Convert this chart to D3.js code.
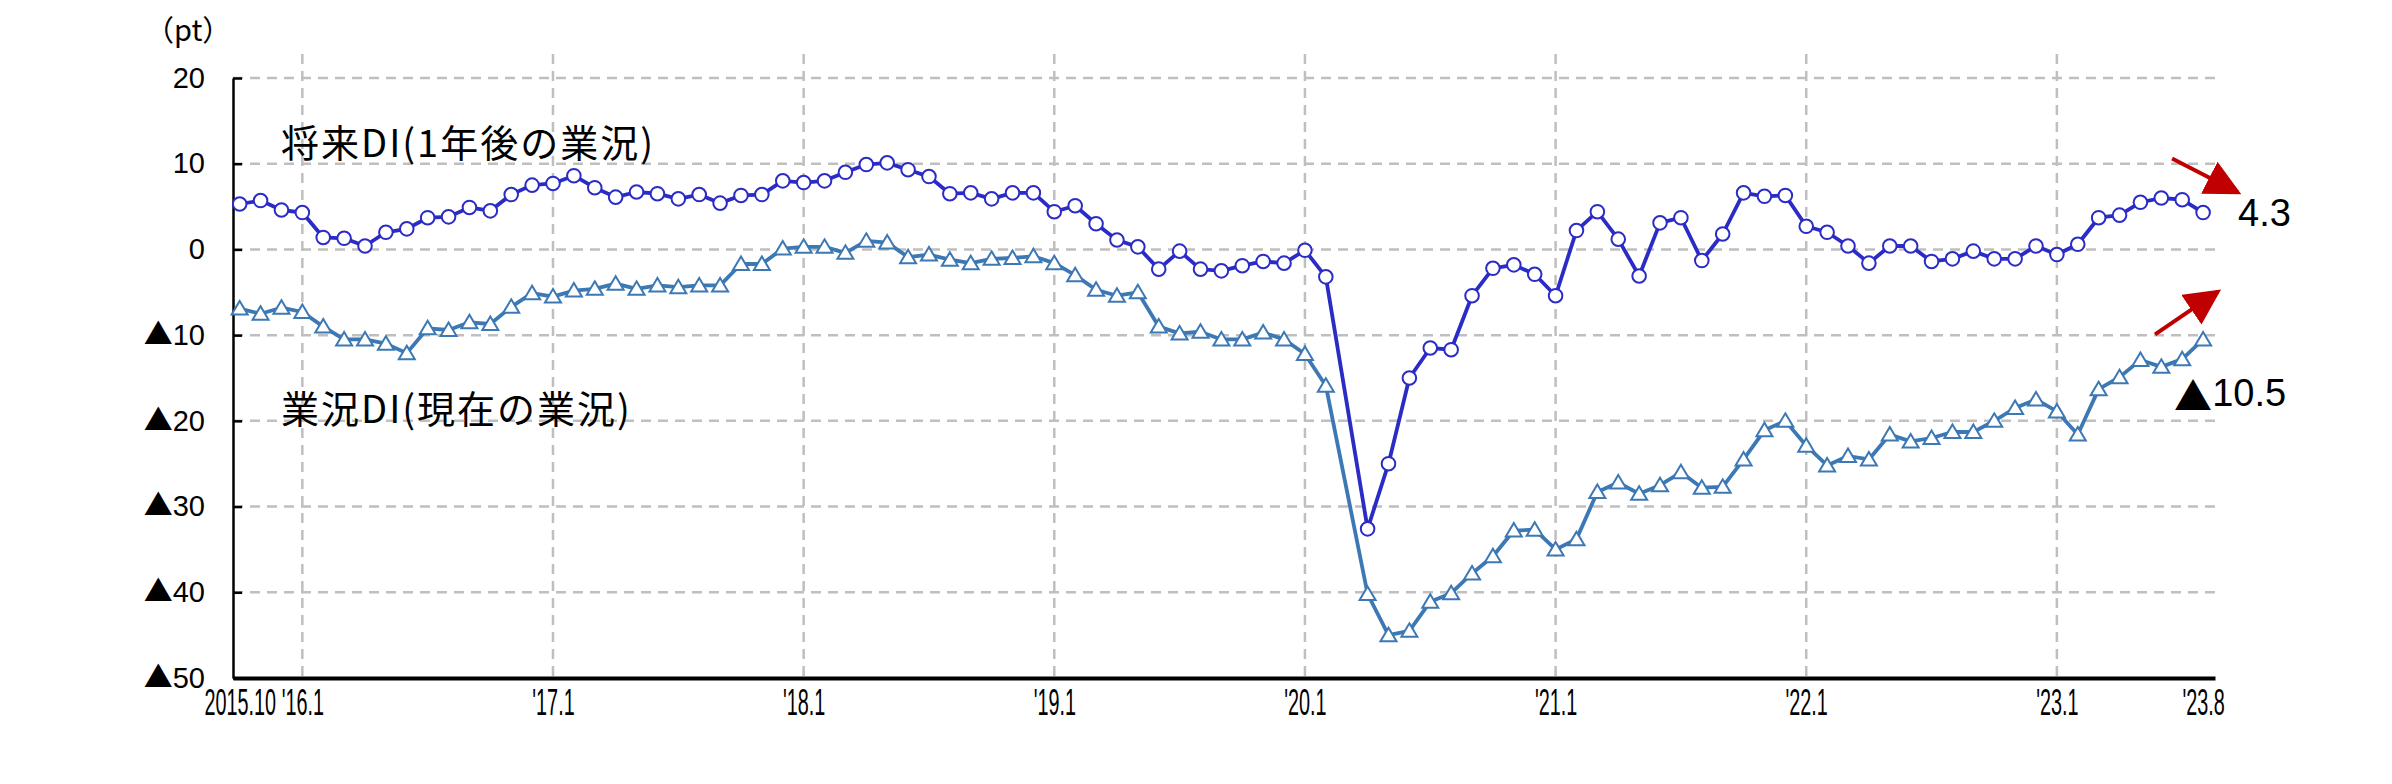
<!DOCTYPE html>
<html><head><meta charset="utf-8">
<script src="https://cdn.jsdelivr.net/npm/d3@7"></script>
<style>body{margin:0;background:#fff;} svg{display:block;}</style>
</head><body><svg id="c" width="2392" height="784"></svg>
<script>
// ---- data ----
const startYear = 2015, startMonthNum = 10;
const futureDI = [5.3,5.7,4.6,4.3,1.4,1.3,0.4,2.0,2.4,3.7,3.8,4.9,4.5,6.4,7.5,7.7,8.6,7.2,6.1,6.7,
  6.5,5.9,6.4,5.4,6.3,6.4,8.0,7.8,8.0,9.0,9.9,10.1,9.3,8.5,6.5,6.6,5.9,6.6,6.6,4.4,
  5.1,3.0,1.1,0.3,-2.3,-0.2,-2.3,-2.5,-1.9,-1.4,-1.6,-0.1,-3.2,null,-32.6,-25.0,-15.0,-11.5,-11.7,-5.4,
  -2.2,-1.8,-2.9,-5.4,2.2,4.4,1.2,-3.1,3.1,3.7,-1.3,1.8,6.6,6.2,6.3,2.7,2.0,0.4,-1.6,0.4,
  0.4,-1.4,-1.1,-0.2,-1.1,-1.1,0.4,-0.6,0.6,3.7,4.0,5.5,6.0,5.8,4.3];
const currentDI = [-6.9,-7.5,-6.8,-7.3,-9.0,-10.5,-10.5,-11.0,-12.1,-9.2,-9.4,-8.5,-8.7,-6.7,-5.1,-5.5,-4.8,-4.6,-4.0,-4.6,
  -4.2,-4.4,-4.2,-4.2,-1.7,-1.7,0.1,0.3,0.3,-0.4,1.0,0.8,-0.9,-0.6,-1.2,-1.6,-1.1,-1.0,-0.8,-1.6,
  -3.0,-4.7,-5.4,-5.0,-9.0,-9.8,-9.6,-10.5,-10.5,-9.7,-10.5,-12.2,-15.9,null,-40.2,-45.0,-44.5,-41.1,-40.1,-37.8,
  -35.8,-32.8,-32.7,-35.0,-33.8,-28.3,-27.2,-28.5,-27.5,-26.0,-27.8,-27.7,-24.5,-21.1,-20.0,-22.9,-25.2,-24.1,-24.5,-21.6,
  -22.4,-22.0,-21.3,-21.3,-20.0,-18.5,-17.5,-18.9,-21.6,-16.3,-14.9,-12.9,-13.7,-12.8,-10.5];
const tickMonths = ["2015-10","2016-01","2017-01","2018-01","2019-01","2020-01","2021-01","2022-01","2023-01","2023-08"];
const tickLabels = ["2015.10","'16.1","'17.1","'18.1","'19.1","'20.1","'21.1","'22.1","'23.1","'23.8"];
const gridMonths = ["2016-01","2017-01","2018-01","2019-01","2020-01","2021-01","2022-01","2023-01"];
const yTicks = [20,10,0,-10,-20,-30,-40,-50];
const yTickLabels = ["20","10","0","▲10","▲20","▲30","▲40","▲50"];
const seriesNames = ["将来DI(1年後の業況)","業況DI(現在の業況)"];
const unitLabel = "（pt）";
const lastLabels = ["4.3","▲10.5"];

// ---- helpers ----
const monthIndex = s => { const [y,m] = s.split("-").map(Number); return (y-startYear)*12 + (m-startMonthNum); };
const n = futureDI.length;
const numFont = "'Liberation Sans', Arial, sans-serif";
const cjkFont = "'Noto Sans CJK JP', sans-serif";
// write a label, drawing a leading ▲ with the CJK font
function richLabel(sel, str) {
  sel.text(null);
  if (str.startsWith("▲")) {
    sel.append("tspan").attr("font-family", cjkFont).text("▲");
    sel.append("tspan").text(str.slice(1));
  } else sel.text(str);
}

const svg = d3.select("#c");
const x = d3.scaleLinear().domain([-0.32, n - 1 + 0.57]).range([233, 2215]);
const y = d3.scaleLinear().domain([-50, 20]).range([678, 78]);

const gridColor = "#BFBFBF";
svg.append("g").selectAll("line").data(yTicks.filter(v => v > -50)).join("line")
  .attr("x1", x.range()[0]).attr("x2", x.range()[1])
  .attr("y1", d => y(d)).attr("y2", d => y(d))
  .attr("stroke", gridColor).attr("stroke-width", 2.5).attr("stroke-dasharray", "10,7");
svg.append("g").selectAll("line").data(gridMonths).join("line")
  .attr("x1", d => x(monthIndex(d))).attr("x2", d => x(monthIndex(d)))
  .attr("y1", y(20) - 24).attr("y2", y(-50))
  .attr("stroke", gridColor).attr("stroke-width", 2.5).attr("stroke-dasharray", "10,7");

// y axis
const yAxis = d3.axisLeft(y).tickValues(yTicks).tickFormat((d,i) => yTickLabels[i])
  .tickSizeInner(-9).tickSizeOuter(0).tickPadding(28);
const gy = svg.append("g").attr("transform", `translate(${x.range()[0]},0)`).call(yAxis);
gy.select(".domain").attr("stroke", "#000").attr("stroke-width", 2.5);
gy.selectAll(".tick line").attr("stroke", "#000").attr("stroke-width", 2.5);
gy.selectAll(".tick text").attr("font-family", numFont)
  .attr("font-size", 29).attr("fill", "#000")
  .each(function(d,i){ richLabel(d3.select(this), yTickLabels[i]); });

// x axis
const xAxis = d3.axisBottom(x).tickValues(tickMonths.map(monthIndex))
  .tickFormat((d,i) => tickLabels[i]).tickSize(0).tickPadding(11);
const gx = svg.append("g").attr("transform", `translate(0,${y(-50)})`).call(xAxis);
gx.select(".domain").attr("stroke", "#000").attr("stroke-width", 4);
gx.selectAll(".tick text").attr("font-family", numFont)
  .attr("font-size", 36).attr("fill", "#000").attr("transform", "scale(0.55,1)");

// unit label
svg.append("text").attr("x", 145).attr("y", 41)
  .attr("font-family", cjkFont).attr("font-size", 29).text(unitLabel);

// series
const series = [
  {values: currentDI, color: "#3C78B4", marker: "tri"},
  {values: futureDI, color: "#2B2BC6", marker: "circle"}
];
const line = d3.line().x(d => x(d.i)).y(d => y(d.v));
series.forEach(s => {
  const pts = s.values.map((v,i) => ({i, v})).filter(d => d.v !== null);
  svg.append("path").datum(pts).attr("d", line).attr("fill", "none")
    .attr("stroke", s.color).attr("stroke-width", 3.8).attr("stroke-linejoin", "round");
  const g = svg.append("g");
  if (s.marker === "circle") {
    g.selectAll("circle").data(pts).join("circle")
      .attr("cx", d => x(d.i)).attr("cy", d => y(d.v)).attr("r", 6.8)
      .attr("fill", "#fff").attr("stroke", s.color).attr("stroke-width", 2);
  } else {
    g.selectAll("path").data(pts).join("path")
      .attr("transform", d => `translate(${x(d.i)},${y(d.v)})`)
      .attr("d", "M0,-7.5L8,6L-8,6Z")
      .attr("fill", "#fff").attr("stroke", s.color).attr("stroke-width", 2);
  }
});

// series name labels
svg.append("text").attr("x", x.range()[0] + 48).attr("y", y(12.7))
  .attr("dominant-baseline", "central").attr("font-family", cjkFont)
  .attr("font-size", 38).attr("letter-spacing", 2).text(seriesNames[0]);
svg.append("text").attr("x", x.range()[0] + 48).attr("y", y(-18.3))
  .attr("dominant-baseline", "central").attr("font-family", cjkFont)
  .attr("font-size", 38).attr("letter-spacing", 2).text(seriesNames[1]);

// last value labels and arrows
const lastI = n - 1;
const fx = x(lastI), fy = y(futureDI[lastI]), cy = y(currentDI[lastI]);
svg.append("text").attr("x", fx + 35).attr("y", fy).attr("dominant-baseline", "central")
  .attr("font-family", numFont).attr("font-size", 38)
  .call(s => richLabel(s, lastLabels[0]));
svg.append("text").attr("x", fx + 83).attr("y", cy + 54).attr("dominant-baseline", "central")
  .attr("text-anchor", "end")
  .attr("font-family", numFont).attr("font-size", 38)
  .call(s => richLabel(s, lastLabels[1]));

const red = "#C00000";
svg.append("defs").append("marker").attr("id", "ah").attr("viewBox", "0 0 10 10")
  .attr("refX", 9).attr("refY", 5).attr("markerWidth", 9).attr("markerHeight", 9)
  .attr("markerUnits", "strokeWidth").attr("orient", "auto")
  .append("path").attr("d", "M0,0L10,5L0,10Z").attr("fill", red);
svg.append("line").attr("x1", fx - 31).attr("y1", fy - 54).attr("x2", fx + 35).attr("y2", fy - 20)
  .attr("stroke", red).attr("stroke-width", 4).attr("marker-end", "url(#ah)");
svg.append("line").attr("x1", fx - 48).attr("y1", cy - 5).attr("x2", fx + 15).attr("y2", cy - 48)
  .attr("stroke", red).attr("stroke-width", 4).attr("marker-end", "url(#ah)");
</script></body></html>
